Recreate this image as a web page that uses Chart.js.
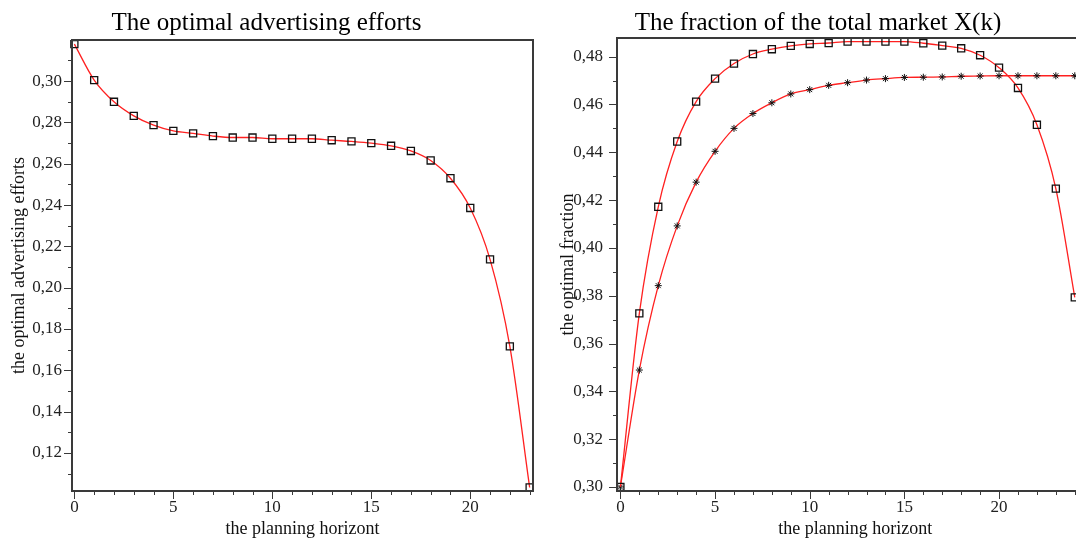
<!DOCTYPE html>
<html lang="en">
<head>
<meta charset="UTF-8">
<title>Optimal advertising efforts and market fraction</title>
<script src="https://cdn.jsdelivr.net/npm/chart.js"></script>
<style>
    html, body { margin: 0; padding: 0; background: #fff; overflow: hidden; }
    #wrap { position: relative; width: 1076px; height: 540px; overflow: hidden; }
    #left { position: absolute; left: 0; top: 0; }
    #right { position: absolute; left: 540px; top: 0; }
</style>
</head>
<body>
<div id="wrap">
    <canvas id="left" width="540" height="540"></canvas>
    <canvas id="right" width="560" height="540"></canvas>
</div>
<script>
// planning horizon k
const horizonLeft = [0, 1, 2, 3, 4, 5, 6, 7, 8, 9, 10, 11, 12, 13, 14, 15, 16, 17, 18, 19, 20, 21, 22, 23];
const horizonRight = [0, 1, 2, 3, 4, 5, 6, 7, 8, 9, 10, 11, 12, 13, 14, 15, 16, 17, 18, 19, 20, 21, 22, 23, 24];

// optimal advertising efforts (left chart)
const efforts = [0.3179, 0.3005, 0.2900, 0.2832, 0.2787, 0.2759, 0.2747, 0.2734, 0.2727, 0.2727,
    0.2721, 0.2721, 0.2721, 0.2714, 0.2708, 0.2700, 0.2687, 0.2662, 0.2616, 0.2530,
    0.2386, 0.2137, 0.1716, 0.1033];

// fraction of the total market X(k) (right chart)
const fractionSquares = [0.3000, 0.3726, 0.4172, 0.4445, 0.4612, 0.4708, 0.4771, 0.4811, 0.4831, 0.4845,
    0.4853, 0.4857, 0.4863, 0.4863, 0.4863, 0.4863, 0.4856, 0.4846, 0.4835, 0.4806,
    0.4754, 0.4669, 0.4515, 0.4248, 0.3793];
const fractionStars = [0.3000, 0.3489, 0.3842, 0.4092, 0.4275, 0.4404, 0.4500, 0.4562, 0.4607, 0.4644,
    0.4662, 0.4680, 0.4691, 0.4702, 0.4708, 0.4713, 0.4714, 0.4715, 0.4718, 0.4719,
    0.4720, 0.4720, 0.4720, 0.4720, 0.4720];

// labelled ticks
const xMajor = [0, 5, 10, 15, 20];
const yMajorLeft = [0.12, 0.14, 0.16, 0.18, 0.20, 0.22, 0.24, 0.26, 0.28, 0.30];
const yMajorRight = [0.30, 0.32, 0.34, 0.36, 0.38, 0.40, 0.42, 0.44, 0.46, 0.48];

const serif = "'Liberation Serif', 'Times New Roman', serif";

function fmt(v) {
    return v.toFixed(2).replace('.', ',');
}

function stepTicks(from, to, step, major) {
    const ticks = [];
    const n = Math.round((to - from) / step);
    for (let i = 0; i <= n; i++) {
        const v = +(from + i * step).toFixed(4);
        ticks.push({ value: v, big: major.some(m => Math.abs(m - v) < 1e-6) });
    }
    return ticks;
}

// frame around the plot + long/short tick marks
const frameTicks = {
    id: 'frameTicks',
    afterDraw(chart) {
        const { ctx, chartArea: a } = chart;
        const sx = chart.scales.x, sy = chart.scales.y;
        ctx.save();
        ctx.strokeStyle = '#3a3a3a';
        ctx.lineWidth = 1;
        ctx.beginPath();
        sx.ticks.forEach(t => {
            const px = Math.round(sx.getPixelForValue(t.value)) + 0.5;
            ctx.moveTo(px, a.bottom);
            ctx.lineTo(px, a.bottom + (t.big ? 8 : 4));
        });
        sy.ticks.forEach(t => {
            const py = Math.round(sy.getPixelForValue(t.value)) + 0.5;
            ctx.moveTo(a.left, py);
            ctx.lineTo(a.left - (t.big ? 8 : 4), py);
        });
        ctx.stroke();
        ctx.lineWidth = 2;
        ctx.strokeRect(a.left, a.top, a.right - a.left, a.bottom - a.top);
        ctx.restore();
    }
};

function makeChart(id, cfg) {
    new Chart(document.getElementById(id), {
        type: 'line',
        data: { datasets: cfg.datasets },
        options: {
            responsive: false,
            animation: false,
            layout: { padding: { left: 0, right: cfg.padRight, top: 0, bottom: 0 } },
            plugins: {
                legend: { display: false },
                tooltip: { enabled: false },
                title: {
                    display: true,
                    text: cfg.title,
                    color: '#000',
                    font: { family: serif, size: 25, weight: 'normal', lineHeight: 1.2 },
                    padding: { top: 8, bottom: cfg.titleBottom }
                }
            },
            scales: {
                x: {
                    type: 'linear',
                    min: cfg.xMin,
                    max: cfg.xMax,
                    afterBuildTicks: s => { s.ticks = stepTicks(0, cfg.xLast, 1, xMajor); },
                    afterFit: s => { s.height = 49; },
                    grid: { display: false, drawTicks: false },
                    border: { display: false },
                    ticks: {
                        autoSkip: false,
                        maxRotation: 0,
                        padding: 6,
                        color: '#222',
                        font: { family: serif, size: 17 },
                        callback: v => (xMajor.includes(v) ? String(v) : '')
                    },
                    title: {
                        display: true,
                        text: 'the planning horizont',
                        color: '#111',
                        font: { family: serif, size: 18 },
                        padding: { top: 0, bottom: 0 }
                    }
                },
                y: {
                    type: 'linear',
                    min: cfg.yMin,
                    max: cfg.yMax,
                    afterBuildTicks: s => { s.ticks = stepTicks(cfg.yFrom, cfg.yTo, 0.01, cfg.yMajor); },
                    afterFit: s => { s.width = cfg.yWidth; },
                    grid: { display: false, drawTicks: false },
                    border: { display: false },
                    ticks: {
                        autoSkip: false,
                        padding: cfg.yPad,
                        color: '#222',
                        font: { family: serif, size: 17 },
                        callback: v => (cfg.yMajor.some(m => Math.abs(m - v) < 1e-6) ? fmt(v) : '')
                    },
                    title: {
                        display: true,
                        text: cfg.yTitle,
                        color: '#111',
                        font: { family: serif, size: 18 },
                        padding: { top: cfg.yTitlePad, bottom: 0 }
                    }
                }
            }
        },
        plugins: [frameTicks]
    });
}

function series(xs, ys, style, radius, pw) {
    return {
        data: xs.map((x, i) => ({ x: x, y: ys[i] })),
        borderColor: '#ff2020',
        borderWidth: 1.3,
        cubicInterpolationMode: 'monotone',
        pointStyle: style,
        pointRadius: radius,
        pointBorderColor: '#111',
        pointBorderWidth: pw,
        pointBackgroundColor: 'rgba(0,0,0,0)',
        clip: false
    };
}

makeChart('left', {
    title: 'The optimal advertising efforts',
    titleBottom: 2,
    padRight: 7,
    xMin: -0.12, xMax: 23.17, xLast: 23,
    yMin: 0.1016, yMax: 0.3199, yFrom: 0.11, yTo: 0.31,
    yMajor: yMajorLeft,
    yWidth: 72, yPad: 10, yTitlePad: 8,
    yTitle: 'the optimal advertising efforts',
    datasets: [series(horizonLeft, efforts, 'rect', 5, 1.3)]
});

makeChart('right', {
    title: 'The fraction of the total market X(k)',
    titleBottom: 0,
    padRight: 4,
    xMin: -0.18, xMax: 25, xLast: 25,
    yMin: 0.2983, yMax: 0.4878, yFrom: 0.30, yTo: 0.48,
    yMajor: yMajorRight,
    yWidth: 77, yPad: 14, yTitlePad: 17,
    yTitle: 'the optimal fraction',
    datasets: [
        series(horizonRight, fractionSquares, 'rect', 5, 1.3),
        series(horizonRight, fractionStars, 'star', 3.5, 1)
    ]
});
</script>
</body>
</html>
